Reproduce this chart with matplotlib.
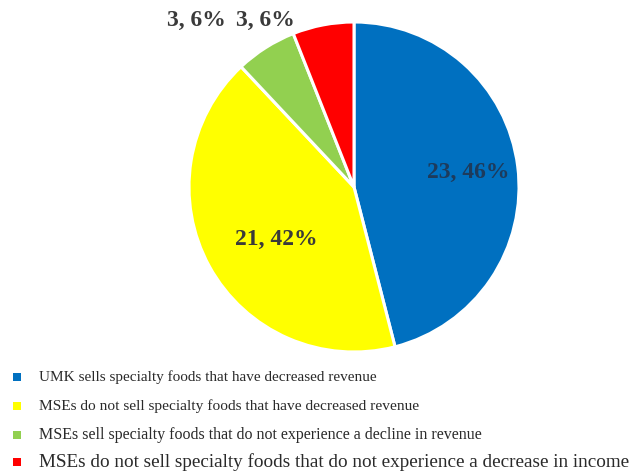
import matplotlib
matplotlib.use("Agg")
import matplotlib.pyplot as plt

categories = [
    "UMK sells specialty foods that have decreased revenue",
    "MSEs do not sell specialty foods that have decreased revenue",
    "MSEs sell specialty foods that do not experience a decline in revenue",
    "MSEs do not sell specialty foods that do not experience a decrease in income",
]
counts = [23, 21, 3, 3]
percents = [46, 42, 6, 6]
colors = ["#0070C0", "#FFFF00", "#92D050", "#FF0000"]

plt.rcParams["font.family"] = ["Liberation Serif", "DejaVu Serif"]

W, H = 635, 473
fig = plt.figure(figsize=(W / 100, H / 100), dpi=100)

# pie placed so that its centre sits at (354, 187) px with radius 165 px
cx, cy, r = 354, 187, 165
ax = fig.add_axes([(cx - r) / W, (H - cy - r) / H, 2 * r / W, 2 * r / H])
wedges, _ = ax.pie(counts, colors=colors, startangle=90, counterclock=False,
                   radius=1.0, wedgeprops=dict(edgecolor="white", linewidth=2.2))
ax.set_xlim(-1, 1)
ax.set_ylim(-1, 1)
ax.set_aspect("auto")
ax.axis("off")

labels = [f"{c}, {p}%" for c, p in zip(counts, percents)]
lab_kw = dict(fontsize=17, fontweight="bold", ha="center", va="center")
ax.text(0.69, 0.09, labels[0], color="#1d3b5c", **lab_kw)
ax.text(-0.47, -0.32, labels[1], color="#3a3a3a", **lab_kw)
ax.text(-0.955, 1.01, labels[2], color="#3a3a3a", clip_on=False, **lab_kw)
ax.text(-0.535, 1.01, labels[3], color="#3a3a3a", clip_on=False, **lab_kw)

# legend rows
rows_y = [377, 406, 435, 462]
row_sizes = [11.0, 11.1, 11.55, 13.8]
for lab, col, y, fs in zip(categories, colors, rows_y, row_sizes):
    fig.patches.append(plt.Rectangle((13 / W, (H - y - 4) / H), 8 / W, 8 / H,
                                     transform=fig.transFigure, facecolor=col,
                                     edgecolor="none"))
    fig.text(39 / W, (H - y) / H, lab, fontsize=fs, color="#2a2a2a",
             ha="left", va="center")

fig.savefig("out.png", dpi=100, facecolor="white")
